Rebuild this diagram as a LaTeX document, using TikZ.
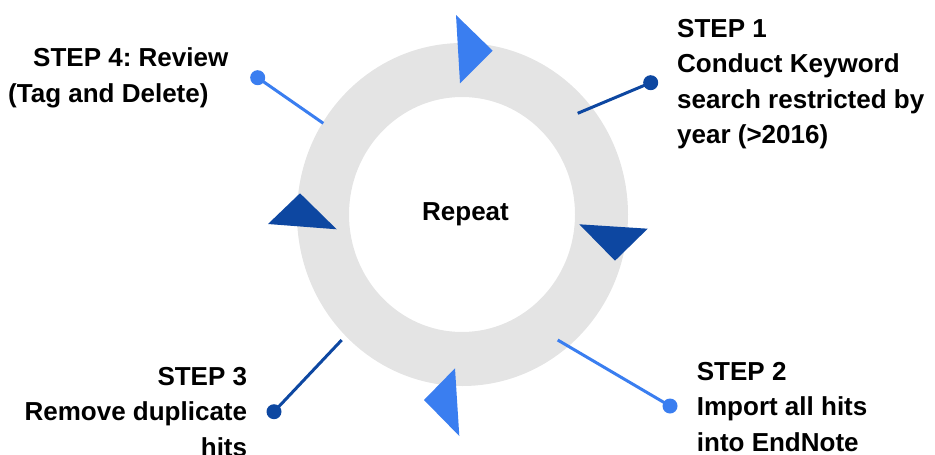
\documentclass[tikz,border=0pt]{standalone}
\usepackage{fontspec}
\setmainfont{Liberation Sans}
\usepackage{xcolor}
\definecolor{ringgray}{HTML}{E4E4E4}
\definecolor{lightblue}{HTML}{3A7EF0}
\definecolor{darkblue}{HTML}{0D47A1}
\frenchspacing

\begin{document}
\begin{tikzpicture}[x=1pt,y=-1pt,
    steptext/.style={font=\fontsize{26}{35.5}\selectfont\bfseries,inner sep=0pt},
    stepdot/.style={shape=circle,fill=#1,inner sep=0pt,minimum size=15pt},
    leader/.style={draw=#1,line width=3pt}]
    \useasboundingbox (0,0) rectangle (935,455);
    % the cycle ring
    \fill[ringgray,even odd rule] (462.5,214.5) ellipse [x radius=165.5pt,y radius=171.5pt]
        (462,214.5) ellipse [x radius=113pt,y radius=117.5pt];
    % arrow heads on the ring
    \fill[lightblue] (456,15) -- (492.7,50.7) -- (460,83.3) -- cycle;
    \fill[darkblue] (579.3,224.3) -- (647.7,228.7) -- (615,260.7) -- cycle;
    \fill[lightblue] (455,368.3) -- (424,400) -- (459.3,436) -- cycle;
    \fill[darkblue] (300,193.3) -- (336.7,229.3) -- (268,224) -- cycle;
    \node[steptext,anchor=base] (repeat) at (465.5,220) {Repeat};

    % step labels (base = baseline of the last line)
    \node[steptext,anchor=base west,align=left] (step1) at (677,143.8)
        {STEP 1\\Conduct Keyword\\search restricted by\\year (>2016)};
    \node[steptext,anchor=base west,align=left] (step2) at (696.7,451)
        {STEP 2\\Import all hits\\into EndNote};
    \node[steptext,anchor=base east,align=right] (step3) at (247.3,456)
        {STEP 3\\Remove duplicate\\hits};
    \node[steptext,anchor=base west,align=left] (step4) at (8,102.2)
        {\hspace*{25pt}STEP 4: Review\\(Tag and Delete)};

    % leader lines with end dots
    \node[stepdot=darkblue] (dot1) at (650.7,82.7) {};
    \node[stepdot=lightblue] (dot2) at (670,406) {};
    \node[stepdot=darkblue] (dot3) at (274,411.7) {};
    \node[stepdot=lightblue] (dot4) at (257.7,77.7) {};
    \coordinate (ring1) at (577.7,113.3);
    \coordinate (ring2) at (557.7,340);
    \coordinate (ring3) at (341.7,340);
    \coordinate (ring4) at (323.3,123.3);
    \path[leader=darkblue] (ring1) -- (dot1.center);
    \path[leader=lightblue] (ring2) -- (dot2.center);
    \path[leader=darkblue] (ring3) -- (dot3.center);
    \path[leader=lightblue] (ring4) -- (dot4.center);
\end{tikzpicture}
\end{document}
